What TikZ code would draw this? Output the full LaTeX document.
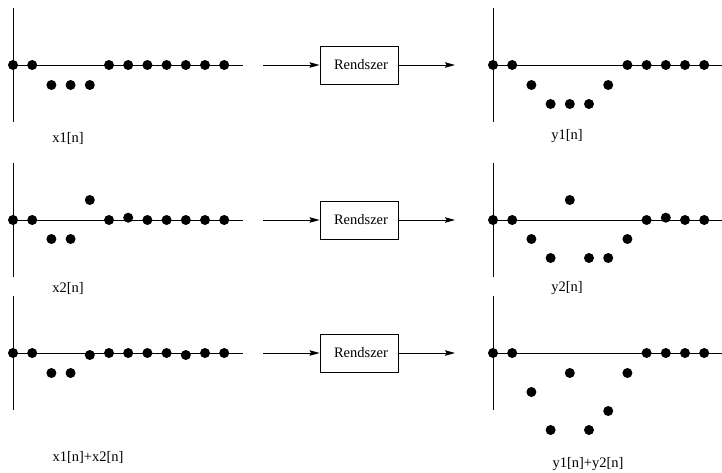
\documentclass[tikz,border=0pt]{standalone}
\usepackage{fontspec}
\setmainfont{Liberation Serif}
\usetikzlibrary{arrows.meta}
\begin{document}
\begin{tikzpicture}[x=1pt,y=-1pt,
  dot/.style={circle,fill=black,inner sep=0pt,minimum size=10pt},
  axisline/.style={line width=0.9pt},
  sysbox/.style={draw,line width=0.9pt,minimum width=78pt,minimum height=38pt,inner sep=0pt,font=\fontsize{14.5}{17}\selectfont},
  lbl/.style={font=\fontsize{14.5}{17}\selectfont,inner sep=0pt},
  flow/.style={line width=0.9pt,-{Stealth[length=10pt,width=5.5pt,inset=1.5pt]}}]
\useasboundingbox (0,0) rectangle (722,473);

% axes
\foreach \ax/\ay/\ex in {13/65/243, 13/220/243, 13/353/243, 493/65/722, 493/220/722, 493/353/722}{
  \draw[axisline] (\ax,\ay) -- (\ex,\ay);
  \draw[axisline] (\ax,\ay-57) -- (\ax,\ay+57);
}

% x1[n]
\foreach \k/\yy in {0/65,1/65,2/85,3/85,4/85,5/65,6/65,7/65,8/65,9/65,10/65,11/65}
  \node[dot] (xa\k) at ({13+19.2*\k},\yy) {};
% y1[n]
\foreach \k/\yy in {0/65,1/65,2/85,3/104,4/104,5/104,6/85,7/65,8/65,9/65,10/65,11/65}
  \node[dot] (ya\k) at ({493+19.2*\k},\yy) {};
% x2[n]
\foreach \k/\yy in {0/220,1/220,2/239,3/239,4/200,5/220,6/217.7,7/220,8/220,9/220,10/220,11/220}
  \node[dot] (xb\k) at ({13+19.2*\k},\yy) {};
% y2[n]
\foreach \k/\yy in {0/220,1/220,2/239,3/258,4/200,5/258,6/258,7/239,8/220,9/217.7,10/220,11/220}
  \node[dot] (yb\k) at ({493+19.2*\k},\yy) {};
% x1[n]+x2[n]
\foreach \k/\yy in {0/353,1/353,2/373,3/373,4/355,5/353,6/353,7/353,8/353,9/355,10/353,11/353}
  \node[dot] (xc\k) at ({13+19.2*\k},\yy) {};
% y1[n]+y2[n]
\foreach \k/\yy in {0/353,1/353,2/392,3/430,4/373,5/430,6/411,7/373,8/353,9/353,10/353,11/353}
  \node[dot] (yc\k) at ({493+19.2*\k},\yy) {};

% labels
\node[lbl] (lxa) at (68,138) {x1[n]};
\node[lbl] (lya) at (567,136) {y1[n]};
\node[lbl] (lxb) at (68,288) {x2[n]};
\node[lbl] (lyb) at (567,288) {y2[n]};
\node[lbl] (lxc) at (88,457) {x1[n]+x2[n]};
\node[lbl] (lyc) at (588,464) {y1[n]+y2[n]};

% systems
\foreach \r/\yy in {a/65,b/220,c/353}{
  \node[sysbox] (sys\r) at (359,\yy) {\hspace{4pt}Rendszer};
  \coordinate (in\r) at (263,\yy);
  \coordinate (out\r) at (455,\yy);
  \draw[flow] (in\r) -- (sys\r.west);
  \draw[flow] (sys\r.east) -- (out\r);
}
\end{tikzpicture}
\end{document}
